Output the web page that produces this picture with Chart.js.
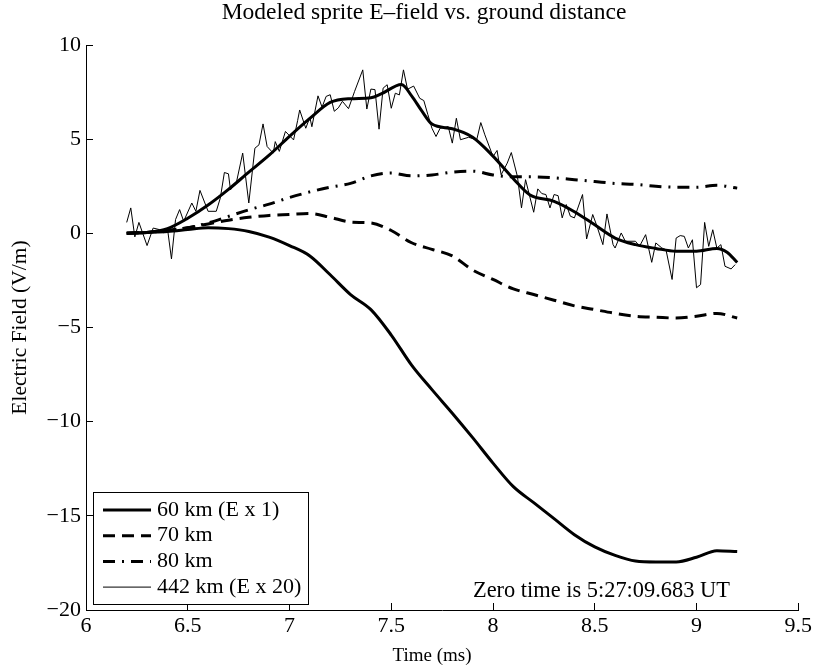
<!DOCTYPE html>
<html>
<head>
<meta charset="utf-8">
<script src="https://cdn.jsdelivr.net/npm/chart.js@4.4.1/dist/chart.umd.min.js"></script>
<style>
  body { margin: 0; background: #fff; }
</style>
</head>
<body>
<canvas id="chart" width="822" height="668"></canvas>
<script>
// model curves, time in ms
const tModel = [6.2, 6.3, 6.4, 6.5, 6.6, 6.7, 6.8, 6.9, 7.0, 7.1,
                7.2, 7.3, 7.4, 7.5, 7.6, 7.7, 7.8, 7.9, 8.0, 8.1,
                8.2, 8.3, 8.4, 8.5, 8.6, 8.7, 8.8, 8.9, 9.0, 9.1, 9.2];
const e60 = [0, 0.05, 0.1, 0.2, 0.3, 0.25, 0.1, -0.2, -0.65, -1.2,
             -2.2, -3.25, -4.05, -5.4, -7.0, -8.3, -9.55, -10.85, -12.2, -13.45,
             -14.3, -15.15, -16.0, -16.65, -17.1, -17.4, -17.45, -17.45, -17.2, -16.85, -16.9];
const e70 = [0, 0.05, 0.15, 0.3, 0.5, 0.7, 0.85, 0.95, 1.0, 1.05,
             0.85, 0.6, 0.55, 0.15, -0.5, -0.85, -1.2, -1.95, -2.45, -2.95,
             -3.25, -3.55, -3.85, -4.05, -4.25, -4.4, -4.45, -4.5, -4.4, -4.25, -4.5];
const e80 = [0, 0.05, 0.15, 0.3, 0.55, 0.9, 1.25, 1.55, 1.9, 2.2,
             2.45, 2.65, 3.05, 3.2, 3.05, 3.1, 3.25, 3.3, 3.1, 3.0,
             3.0, 2.95, 2.85, 2.75, 2.65, 2.6, 2.5, 2.45, 2.45, 2.55, 2.4];

// 442 km record (E x 20), raw samples
const tRaw = [6.20, 6.22, 6.24, 6.26, 6.30, 6.33, 6.36, 6.38, 6.40, 6.42,
              6.44, 6.46, 6.48, 6.52, 6.54, 6.56, 6.60, 6.64, 6.66, 6.68,
              6.70, 6.71, 6.74, 6.77, 6.80, 6.83, 6.85, 6.87, 6.89, 6.92,
              6.93, 6.95, 6.98, 7.02, 7.04, 7.05, 7.08, 7.10, 7.11, 7.14,
              7.16, 7.18, 7.20, 7.22, 7.24, 7.26, 7.29, 7.32, 7.36, 7.38,
              7.40, 7.42, 7.44, 7.46, 7.48, 7.50, 7.52, 7.54, 7.56, 7.58,
              7.61, 7.64, 7.66, 7.68, 7.70, 7.72, 7.74, 7.78, 7.80, 7.82,
              7.84, 7.88, 7.92, 7.94, 7.96, 8.00, 8.02, 8.04, 8.07, 8.09,
              8.12, 8.14, 8.16, 8.20, 8.22, 8.24, 8.26, 8.28, 8.30, 8.32,
              8.34, 8.36, 8.38, 8.40, 8.44, 8.46, 8.49, 8.51, 8.54, 8.56,
              8.59, 8.60, 8.63, 8.65, 8.70, 8.72, 8.75, 8.78, 8.80, 8.83,
              8.85, 8.88, 8.90, 8.92, 8.94, 8.96, 8.98, 9.00, 9.02, 9.04,
              9.06, 9.08, 9.10, 9.12, 9.14, 9.17, 9.19];
const eRaw = [0.58, 1.35, -0.19, 0.58, -0.65, 0.28, 0.20, 0.03, 0.28, -1.36,
              0.73, 1.26, 0.64, 1.61, 1.17, 2.28, 1.17, 1.17, 1.87, 3.23,
              3.16, 2.31, 2.75, 4.26, 1.61, 4.52, 4.70, 5.81, 4.61, 4.26,
              4.87, 4.35, 5.41, 4.96, 5.99, 6.55, 5.58, 6.16, 5.66, 7.30,
              6.70, 7.27, 7.36, 6.48, 6.66, 7.01, 6.62, 7.54, 8.68, 6.60,
              7.66, 7.63, 5.53, 7.71, 7.89, 6.64, 7.44, 7.35, 8.68, 7.65,
              7.82, 7.17, 7.05, 6.30, 5.58, 5.14, 5.58, 5.67, 4.79, 6.11,
              4.97, 5.10, 4.97, 5.88, 5.23, 4.08, 4.40, 3.11, 3.73, 4.29,
              3.02, 1.35, 2.85, 1.12, 2.36, 2.11, 2.06, 1.35, 2.06, 2.00,
              0.82, 1.53, 0.91, 0.82, 2.06, -0.30, 1.00, 0.41, -0.60, 1.03,
              -0.60, -0.78, 0.02, -0.42, -0.42, -0.69, -0.07, -1.54, -0.51, -0.78,
              -0.87, -2.45, -0.25, -0.12, -0.16, -0.78, -0.34, -2.89, -2.72, 0.58,
              -0.69, 0.19, -0.78, -0.60, -1.75, -1.89, -1.66];

// smoothed 442 km trace
const tSmooth = [6.2, 6.3, 6.4, 6.5, 6.6, 6.7, 6.8, 6.9, 7.0, 7.1,
                 7.2, 7.3, 7.4, 7.45, 7.55, 7.6, 7.65, 7.7, 7.8, 7.9,
                 8.0, 8.1, 8.18, 8.3, 8.4, 8.5, 8.6, 8.7, 8.8, 8.9,
                 9.0, 9.1, 9.15, 9.2];
const eSmooth = [0, 0.05, 0.25, 0.8, 1.5, 2.33, 3.25, 4.15, 5.15, 6.1,
                 6.95, 7.15, 7.2, 7.4, 7.9, 7.3, 6.5, 5.8, 5.55, 5.1,
                 4.1, 2.9, 2.05, 1.7, 1.15, 0.45, -0.25, -0.6, -0.8, -0.95,
                 -0.95, -0.8, -1.0, -1.55];

const legendLabels = ['60 km (E x 1)', '70 km', '80 km', '442 km (E x 20)'];
const titleText = 'Modeled sprite E\u2013field vs. ground distance';
const xLabel = 'Time (ms)';
const yLabel = 'Electric Field (V/m)';
const noteText = 'Zero time is 5:27:09.683 UT';

const serif = "'Liberation Serif', 'Times New Roman', serif";
Chart.defaults.font.family = serif;
Chart.defaults.color = '#000';

function pts(t, v) {
    return t.map((x, i) => ({ x: x, y: v[i] }));
}

// title, x label, legend box and the zero time note (matlab style placement)
const overlay = {
    id: 'overlay',
    afterDraw(chart) {
        const ctx = chart.ctx;
        const area = chart.chartArea;
        ctx.save();
        ctx.fillStyle = '#000';
        ctx.textBaseline = 'middle';
        ctx.textAlign = 'center';
        ctx.font = '23.5px ' + serif;
        ctx.fillText(titleText, area.left + 338, 13);
        ctx.font = '19px ' + serif;
        ctx.fillText(xLabel, area.left + 346, 656);

        const bx = area.left + 7, by = area.bottom - 118, bw = 215, bh = 112;
        ctx.fillStyle = '#fff';
        ctx.fillRect(bx, by, bw, bh);
        ctx.strokeStyle = '#000';
        ctx.lineWidth = 1;
        ctx.strokeRect(bx + 0.5, by + 0.5, bw, bh);

        ctx.font = '22px ' + serif;
        ctx.textAlign = 'left';
        for (let i = 0; i < legendLabels.length; i++) {
            const ds = chart.data.datasets[i];
            const y = by + 18 + i * 25.7;
            ctx.beginPath();
            ctx.lineWidth = ds.borderWidth;
            ctx.setLineDash(ds.borderDash || []);
            ctx.moveTo(bx + 10, y);
            ctx.lineTo(bx + 58, y);
            ctx.stroke();
            ctx.fillStyle = '#000';
            ctx.fillText(legendLabels[i], bx + 64, y);
        }
        ctx.setLineDash([]);
        ctx.font = '22.4px ' + serif;
        ctx.fillText(noteText, area.left + 387, area.bottom - 19);
        ctx.restore();
    }
};

const ctx = document.getElementById('chart').getContext('2d');
const myChart = new Chart(ctx, {
    type: 'line',
    data: {
        datasets: [
            { label: legendLabels[0], data: pts(tModel, e60), borderColor: '#000', borderWidth: 3, cubicInterpolationMode: 'monotone' },
            { label: legendLabels[1], data: pts(tModel, e70), borderColor: '#000', borderWidth: 3, borderDash: [12, 7], cubicInterpolationMode: 'monotone' },
            { label: legendLabels[2], data: pts(tModel, e80), borderColor: '#000', borderWidth: 3, borderDash: [12, 7, 2, 7], cubicInterpolationMode: 'monotone' },
            { label: legendLabels[3], data: pts(tRaw, eRaw), borderColor: '#000', borderWidth: 1 },
            { label: 'smoothed', data: pts(tSmooth, eSmooth), borderColor: '#000', borderWidth: 3, cubicInterpolationMode: 'monotone' }
        ]
    },
    options: {
        responsive: false,
        animation: false,
        elements: { point: { radius: 0 }, line: { tension: 0, borderCapStyle: 'butt' } },
        layout: { padding: { left: 0, right: 22, top: 45, bottom: 0 } },
        plugins: {
            legend: { display: false },
            tooltip: { enabled: false },
            title: { display: false }
        },
        scales: {
            x: {
                type: 'linear',
                min: 6, max: 9.5,
                ticks: { stepSize: 0.5, font: { size: 22 }, padding: 10, maxRotation: 0,
                         callback: (v) => String(v) },
                grid: { drawOnChartArea: false, tickLength: -7, color: '#000' },
                border: { color: '#000' },
                afterFit(scale) { scale.height = 58; }
            },
            y: {
                min: -20, max: 10,
                ticks: {
                    stepSize: 5, font: { size: 22 }, padding: 12,
                    callback: (v) => String(v).replace('-', '\u2212')
                },
                grid: { drawOnChartArea: false, tickLength: -7, color: '#000' },
                border: { color: '#000' },
                title: { display: true, text: yLabel, font: { size: 21.5 }, padding: { top: 7 } },
                afterFit(scale) { scale.width = 86; }
            }
        }
    },
    plugins: [overlay]
});
</script>
</body>
</html>
